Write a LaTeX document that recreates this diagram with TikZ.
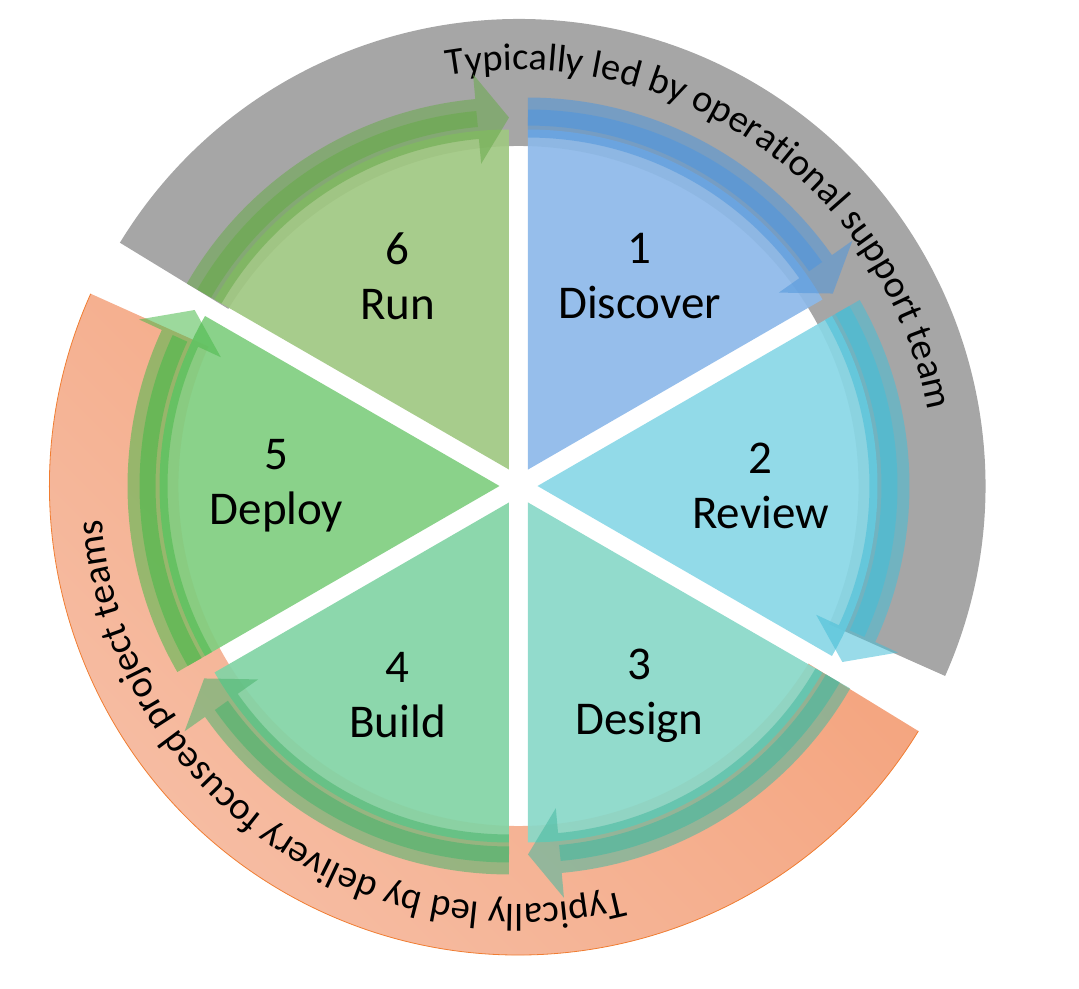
\documentclass[tikz,border=0pt]{standalone}
\usepackage{fontspec}
\setmainfont{Carlito}
\usepackage{tikz}
\usetikzlibrary{decorations.text}
\usepackage{xcolor}

\definecolor{discoverfill}{RGB}{141,185,233}
\definecolor{reviewfill}{RGB}{137,215,230}
\definecolor{designfill}{RGB}{137,216,200}
\definecolor{buildfill}{RGB}{130,212,165}
\definecolor{deployfill}{RGB}{128,206,128}
\definecolor{runfill}{RGB}{160,200,130}
\definecolor{discoverarrow}{RGB}{80,150,220}
\definecolor{reviewarrow}{RGB}{70,190,215}
\definecolor{designarrow}{RGB}{70,185,160}
\definecolor{buildarrow}{RGB}{75,180,110}
\definecolor{deployarrow}{RGB}{75,185,75}
\definecolor{runarrow}{RGB}{105,170,75}
\definecolor{opsgrey}{RGB}{166,166,166}
\definecolor{projdark}{RGB}{244,160,120}
\definecolor{projlight}{RGB}{246,192,168}
\definecolor{projline}{RGB}{240,125,50}

\newcommand{\labelfont}{\fontsize{47}{55}\selectfont}
\newcommand{\bandfont}{\fontsize{38.5}{46}\selectfont}

% one exploded slice with its arrow: bisector, slice colour, arrow colour
\newcommand{\phaseslice}[3]{%
  \begin{scope}[shift={(#1:19)}]
    \fill[#2,opacity=0.92] (0,0) -- (#1+30:340) arc[start angle=#1+30,end angle=#1-30,radius=340] -- cycle;
    \fill[#3,opacity=0.55] (#1+30:332) arc[start angle=#1+30,end angle=#1-24.8,radius=332]
      -- (#1-24.8:307) -- (#1-30:352) -- (#1-24.8:397) -- (#1-24.8:372)
      arc[start angle=#1-24.8,end angle=#1+30,radius=372] -- cycle;
    \draw[#3,opacity=0.6,line width=16] (#1+30:352) arc[start angle=#1+30,end angle=#1-24.8,radius=352];
  \end{scope}}

\begin{document}
\begin{tikzpicture}[x=1pt,y=1pt]
    %styles
    \tikzstyle{phase}=[align=center,font=\labelfont,inner sep=0pt]
    \tikzstyle{bandtext}=[decorate,decoration={text along path,text align=center}]
    \useasboundingbox (-518.5,-502) rectangle (560.5,486);

    %bands
    \fill[opsgrey] (-24:340) arc[start angle=-24,end angle=148.6,radius=340]
      -- (148.6:467) arc[start angle=148.6,end angle=-24,radius=467] -- cycle;
    \shade[top color=projdark,bottom color=projlight,shading angle=-45]
      (155.8:340) arc[start angle=155.8,end angle=328.5,radius=340]
      -- (328.5:469) arc[start angle=328.5,end angle=155.8,radius=469] -- cycle;
    \draw[projline,line width=0.8] (155.8:469) arc[start angle=155.8,end angle=328.5,radius=469];

    %band texts
    \path[bandtext,decoration={text={|\bandfont|Typically led by operational support team}}]
      (115.1:416) arc[start angle=115.1,end angle=-4.9,radius=416];
    \path[bandtext,decoration={text={|\bandfont|Typically led by delivery focused project teams}}]
      (-60.5:418) arc[start angle=-60.5,end angle=-190.5,radius=418];

    %slices
    \phaseslice{60}{discoverfill}{discoverarrow}
    \phaseslice{0}{reviewfill}{reviewarrow}
    \phaseslice{-60}{designfill}{designarrow}
    \phaseslice{-120}{buildfill}{buildarrow}
    \phaseslice{180}{deployfill}{deployarrow}
    \phaseslice{120}{runfill}{runarrow}

    %nodes
    \node[phase] (discover) at (60:242) {1\\Discover};
    \node[phase] (review) at (0:242) {2\\Review};
    \node[phase] (design) at (-60:242) {3\\Design};
    \node[phase] (build) at (-120:242) {4\\Build};
    \node[phase] (deploy) at (180:242) {5\\Deploy};
    \node[phase] (run) at (120:242) {6\\Run};
\end{tikzpicture}
\end{document}
